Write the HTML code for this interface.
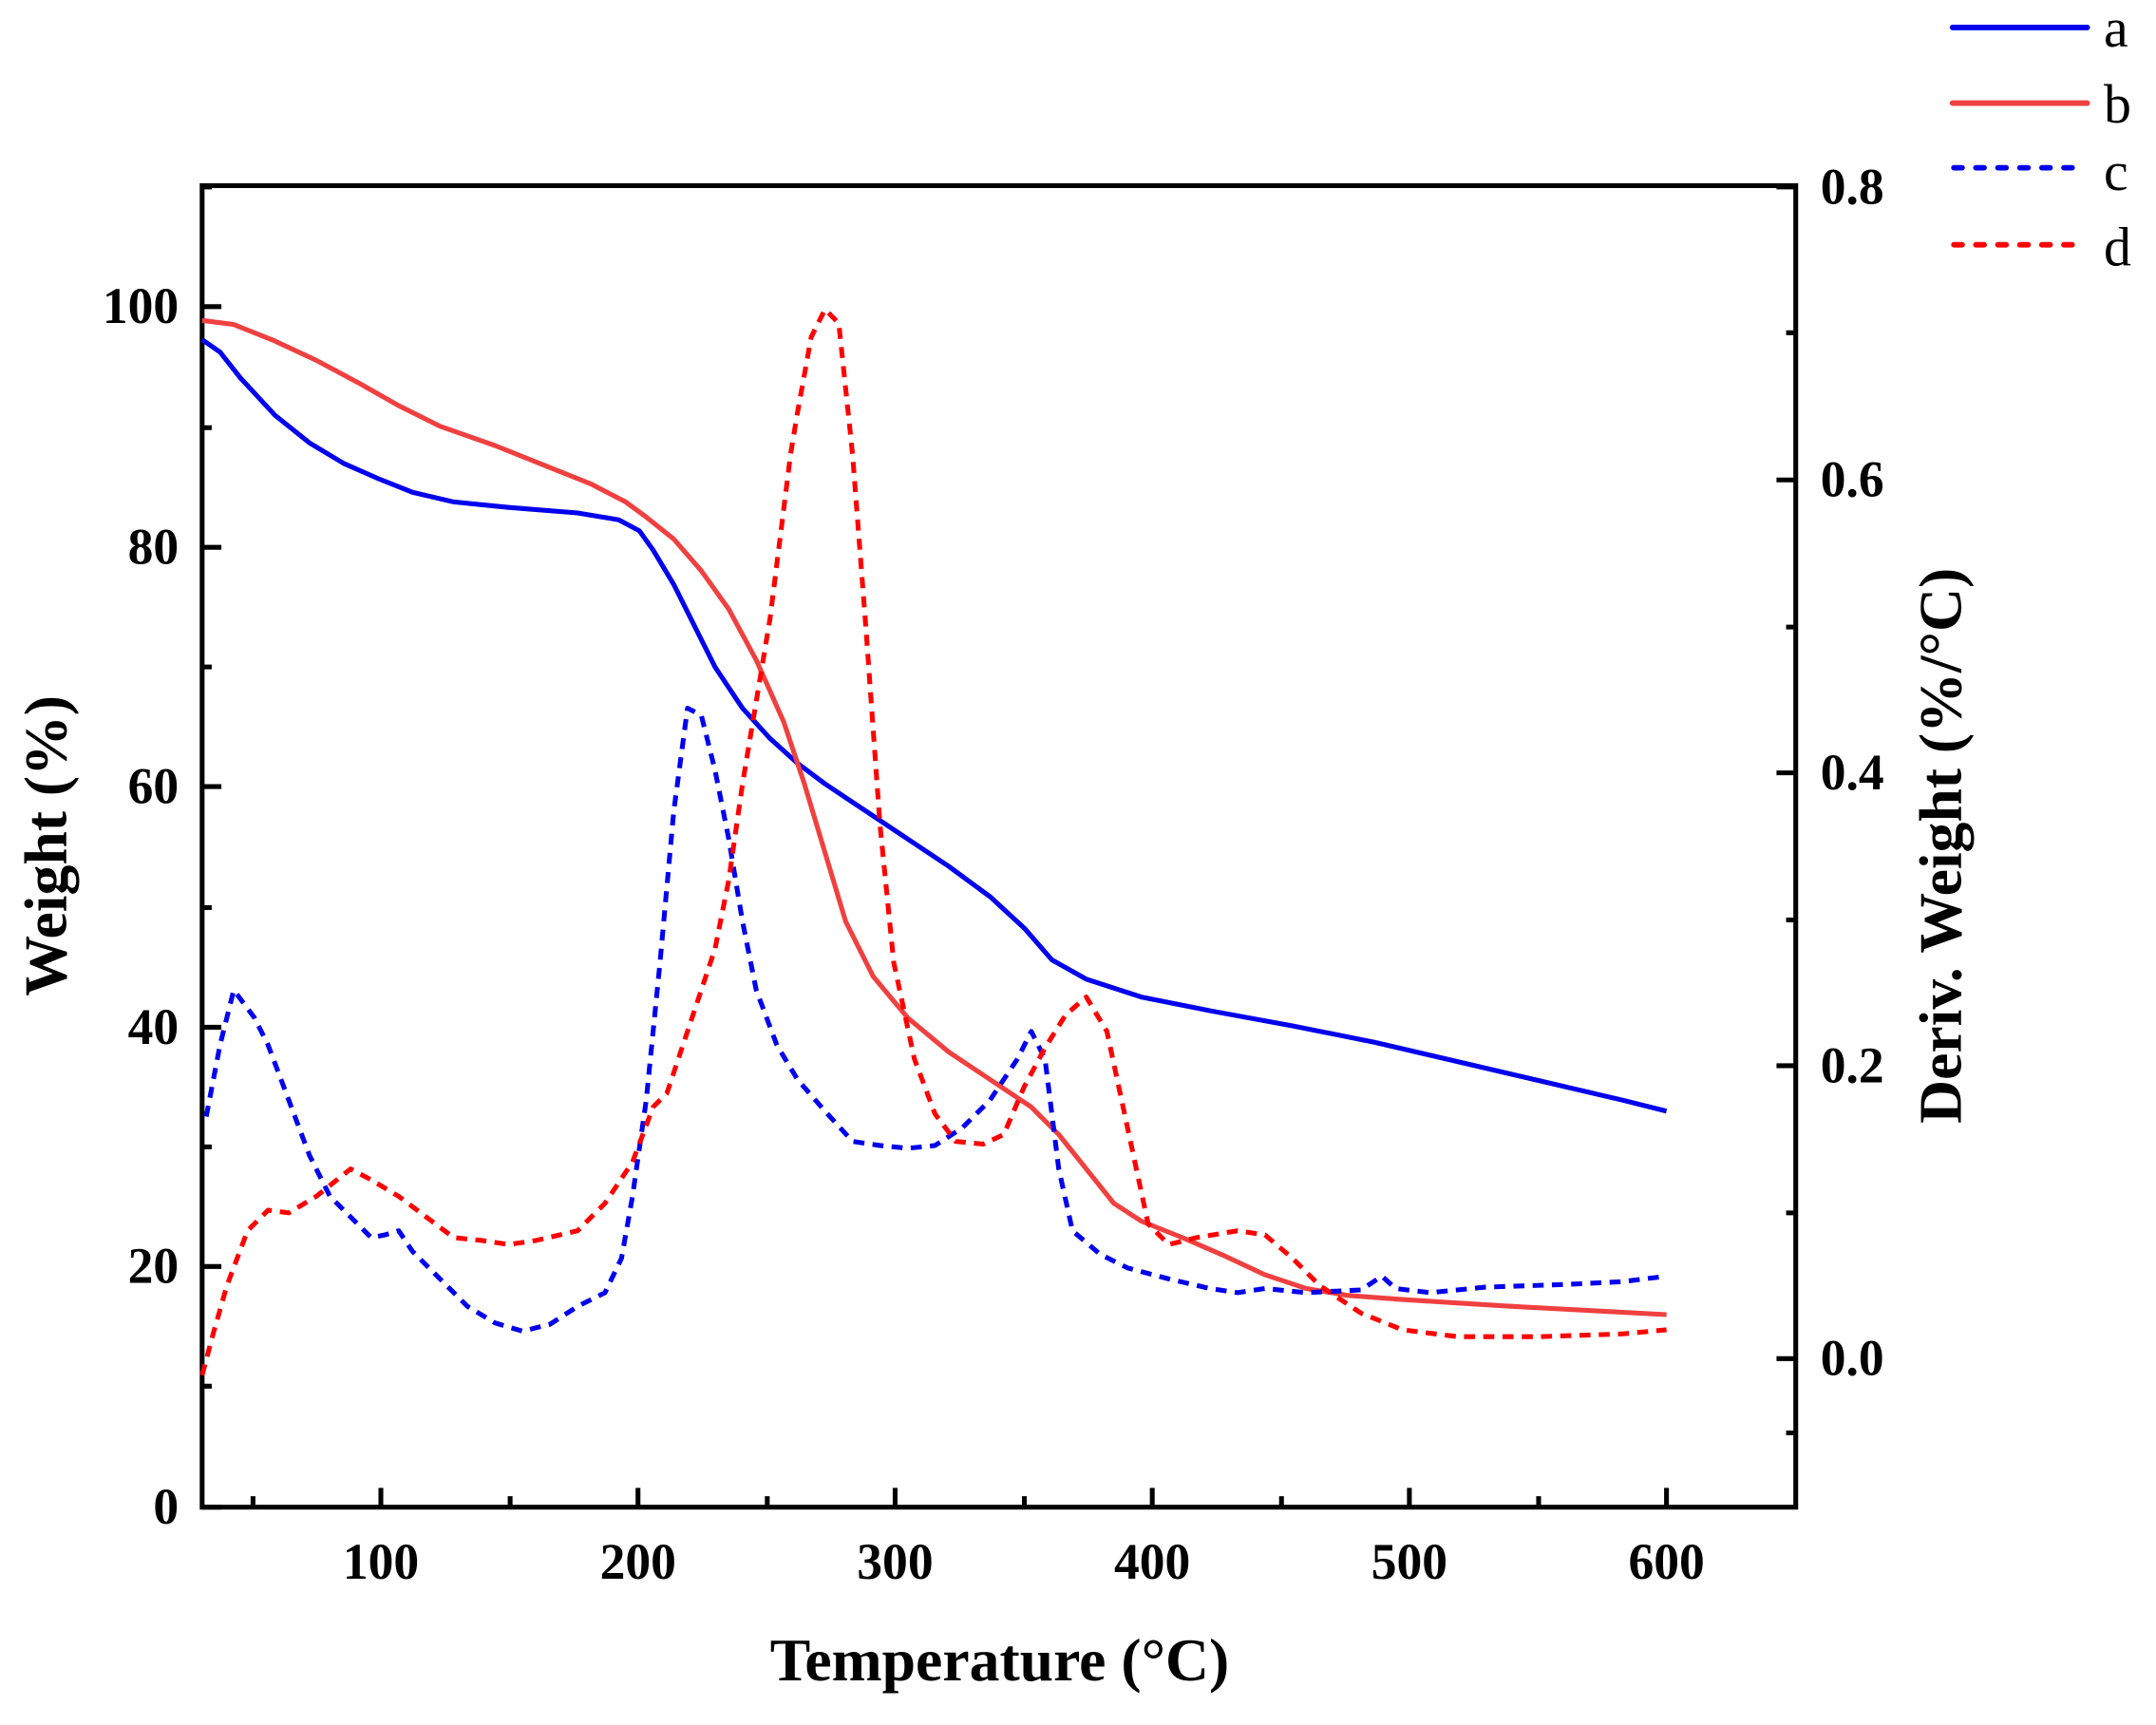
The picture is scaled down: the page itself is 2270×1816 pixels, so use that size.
<!DOCTYPE html>
<html><head><meta charset="utf-8"><style>html,body{margin:0;padding:0;background:#fff}svg{display:block}text{font-family:"Liberation Serif","Times New Roman",serif}</style></head>
<body>
<svg width="2270" height="1816" viewBox="0 0 1568 1254.4" preserveAspectRatio="none" xmlns="http://www.w3.org/2000/svg" font-weight="bold">
<rect width="1568" height="1254.4" fill="#fff"/>
<g stroke="#000" stroke-width="3.5" fill="none">
<rect x="147" y="135" width="1159" height="961"/>
<path d="M147 1096h14M147 1008h7M147 921h14M147 834h7M147 747h14M147 660h7M147 572h14M147 485h7M147 398h14M147 311h7M147 223h14M147 136h7"/>
<path d="M184 1096v-8M277 1096v-14M371 1096v-8M464 1096v-14M558 1096v-8M651 1096v-14M745 1096v-8M838 1096v-14M932 1096v-8M1025 1096v-14M1119 1096v-8M1212 1096v-14"/>
<path d="M1306 1042h-7M1306 988h-14M1306 882h-7M1306 775h-14M1306 669h-7M1306 562h-14M1306 456h-7M1306 349h-14M1306 242h-7M1306 136h-14"/>
</g>
<g font-size="37" fill="#000">
<g text-anchor="end">
<text x="130" y="1108">0</text><text x="130" y="933">20</text><text x="130" y="759">40</text><text x="130" y="584">60</text><text x="130" y="410">80</text><text x="130" y="235">100</text>
</g>
<g text-anchor="middle">
<text x="277" y="1148">100</text><text x="464" y="1148">200</text><text x="651" y="1148">300</text><text x="838" y="1148">400</text><text x="1025" y="1148">500</text><text x="1212" y="1148">600</text>
</g>
<g>
<text x="1324" y="1000">0.0</text><text x="1324" y="787">0.2</text><text x="1324" y="574">0.4</text><text x="1324" y="361">0.6</text><text x="1324" y="148">0.8</text>
</g>
<text x="727" y="1222" text-anchor="middle" font-size="44">Temperature (°C)</text>
<text transform="translate(48,615) rotate(-90)" text-anchor="middle" font-size="44">Weight (%)</text>
<text transform="translate(1426,615) rotate(-90)" text-anchor="middle" font-size="44">Deriv. Weight (%/°C)</text>
</g>
<g fill="none" stroke-width="3.5" stroke-linejoin="round">
<polyline stroke="#0000ee" points="147,247 160,256 175,275 200,302 225,322 250,337 275,348 300,358 330,365 370,369 420,373 450,378 465,386 475,400 490,425 505,455 520,485 540,515 560,537 580,555 600,570 630,590 660,610 690,630 720,652 745,675 765,698 790,712 830,725 880,735 940,746 1000,758 1060,772 1120,786 1180,800 1212,808"/>
<polyline stroke="#f04040" points="147,233 170,236 200,248 230,262 260,278 290,295 320,310 360,324 400,340 430,352 455,365 470,376 490,392 510,415 530,443 550,480 570,525 585,570 600,620 615,670 635,710 660,740 690,765 720,785 750,805 770,825 790,850 810,875 830,888 860,900 890,913 920,927 950,937 980,942 1020,945 1100,950 1212,956"/>
<polyline stroke="#0000ee" stroke-dasharray="8,6" points="150,812 160,760 170,720 185,740 195,760 210,800 225,840 240,870 260,890 270,900 280,898 290,895 300,910 320,930 340,950 360,962 380,968 400,963 420,950 440,940 452,915 460,870 470,800 480,700 490,590 500,515 510,520 520,560 530,610 540,670 550,720 565,760 580,785 600,808 620,830 640,833 660,835 680,833 700,820 720,800 740,770 750,750 760,770 770,850 780,895 800,912 820,922 850,930 880,937 900,940 920,937 950,940 990,938 1005,928 1015,937 1040,940 1080,936 1140,934 1180,932 1212,928"/>
<polyline stroke="#ff0000" stroke-dasharray="8,6" points="147,1000 155,970 165,935 180,895 195,880 210,882 230,870 255,850 270,858 290,870 310,885 330,900 350,902 370,905 390,902 420,895 440,875 460,845 475,805 485,795 495,765 510,720 520,690 530,640 540,570 550,510 560,450 570,370 575,330 580,300 590,245 600,225 610,235 620,330 630,460 640,600 650,700 665,770 680,810 695,830 715,832 730,825 745,790 760,762 775,738 790,725 805,750 820,820 835,890 850,905 870,900 900,895 920,898 940,915 960,935 990,955 1020,967 1060,972 1120,972 1180,970 1212,967"/>
</g>
<g stroke-width="4" stroke-linecap="round" fill="none">
<line x1="1420" y1="20" x2="1518" y2="20" stroke="#0000ee"/>
<line x1="1420" y1="75" x2="1518" y2="75" stroke="#f04040"/>
<line x1="1421" y1="122" x2="1510" y2="122" stroke="#0000ee" stroke-dasharray="6,10"/>
<line x1="1421" y1="178" x2="1510" y2="178" stroke="#ff0000" stroke-dasharray="6,10"/>
</g>
<g font-size="40" font-weight="normal" fill="#000">
<text x="1530" y="34">a</text><text x="1530" y="89">b</text><text x="1530" y="138">c</text><text x="1530" y="193">d</text>
</g>
</svg>
</body></html>
